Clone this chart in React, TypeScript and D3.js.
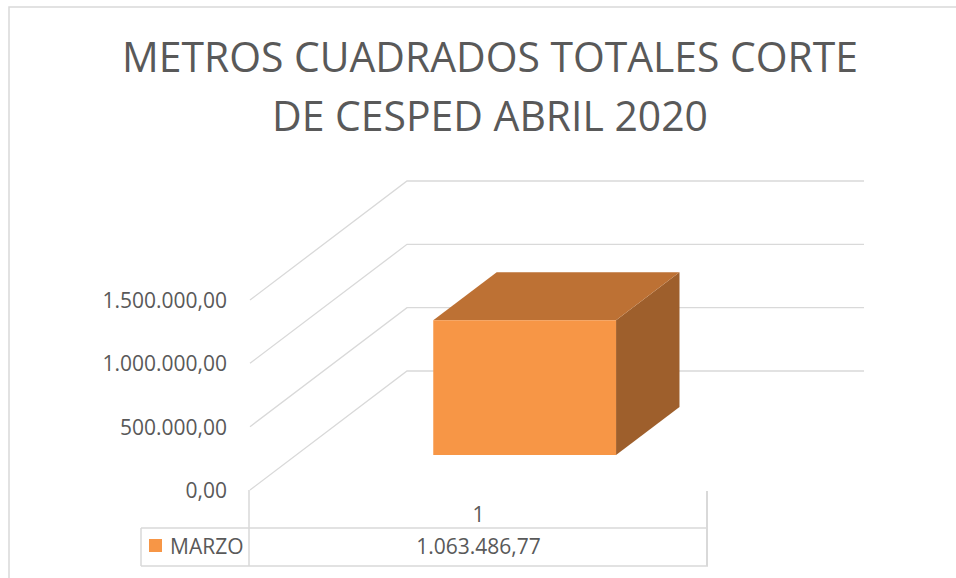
import React from "react";
import * as d3 from "d3";

const titleLines = ["METROS CUADRADOS TOTALES CORTE", "DE CESPED ABRIL 2020"];
const categories = ["1"];
const seriesName = "MARZO";
const seriesValues = [1063486.77];
const yTicks = [0, 500000, 1000000, 1500000];

const fmt = (v: number) => {
  const s = d3.format(",.2f")(v);
  return s.replace(/,/g, "#").replace(/\./g, ",").replace(/#/g, ".");
};

export default function App() {
  const W = 956, H = 578;
  const floorY = 490;
  const DX = 157, DY = 119;
  const x = d3.scaleBand<string>().domain(categories).range([250, 707]).paddingInner(0).paddingOuter(0.75);
  const y = d3.scaleLinear().domain([0, 1500000]).range([0, 190]);
  const z0 = 0.294, z1 = 0.698;
  const p = (px: number, v: number, z: number): [number, number] => [px + z * DX, floorY - y(v) - z * DY];
  const poly = (pts: [number, number][]) => pts.map((q) => q.join(",")).join(" ");
  const grid = "#d9d9d9";
  const text = "#595959";
  const font = "'Open Sans', sans-serif";

  return (
    <svg width={W} height={H} style={{ position: "absolute", left: 0, top: 0, background: "#fff" }} fontFamily={font}>
      <rect x={9} y={7} width={1000} height={700} fill="#fff" stroke={grid} strokeWidth={1.5} />
      {titleLines.map((t, i) => (
        <text key={t} x={490} y={72 + i * 58.5} textAnchor="middle" fontSize={42} fill={text}
          textLength={i === 0 ? 736 : 436} lengthAdjust="spacingAndGlyphs">{t}</text>
      ))}
      {yTicks.map((v) => {
        const a = p(250, v, 0), b = p(250, v, 1), c = p(707, v, 1);
        return (
          <g key={v}>
            <polyline points={poly([a, b, c])} fill="none" stroke={grid} strokeWidth={1.3} />
            <text x={227} y={a[1] + 8} textAnchor="end" fontSize={21} fill={text}>{fmt(v)}</text>
          </g>
        );
      })}
      {categories.map((cat, i) => {
        const v = seriesValues[i];
        const xl = x(cat)!, xr = xl + x.bandwidth();
        const front = [p(xl, 0, z0), p(xr, 0, z0), p(xr, v, z0), p(xl, v, z0)];
        const side = [p(xr, 0, z0), p(xr, 0, z1), p(xr, v, z1), p(xr, v, z0)];
        const top = [p(xl, v, z0), p(xr, v, z0), p(xr, v, z1), p(xl, v, z1)];
        return (
          <g key={cat}>
            <polygon points={poly(side)} fill="#9E5F2C" />
            <polygon points={poly(top)} fill="#BD7134" />
            <polygon points={poly(front)} fill="#F79646" />
          </g>
        );
      })}
      {/* data table */}
      <line x1={249} y1={floorY} x2={249} y2={566} stroke={grid} strokeWidth={1.5} />
      <line x1={707} y1={floorY + 1} x2={707} y2={566} stroke={grid} strokeWidth={2} />
      <line x1={141} y1={528} x2={707} y2={528} stroke={grid} strokeWidth={1.5} />
      <line x1={141} y1={566} x2={708} y2={566} stroke={grid} strokeWidth={1.5} />
      <line x1={141} y1={528} x2={141} y2={566} stroke={grid} strokeWidth={1.5} />
      {categories.map((cat, i) => (
        <g key={"t" + cat}>
          <text x={x(cat)! + x.bandwidth() / 2} y={522} textAnchor="middle" fontSize={21} fill={text}>{cat}</text>
          <text x={x(cat)! + x.bandwidth() / 2} y={554} textAnchor="middle" fontSize={21} fill={text}>{fmt(seriesValues[i])}</text>
        </g>
      ))}
      <rect x={149} y={539} width={13} height={13} fill="#F79646" />
      <text x={170} y={554} fontSize={21} fill={text}>{seriesName}</text>
    </svg>
  );
}
